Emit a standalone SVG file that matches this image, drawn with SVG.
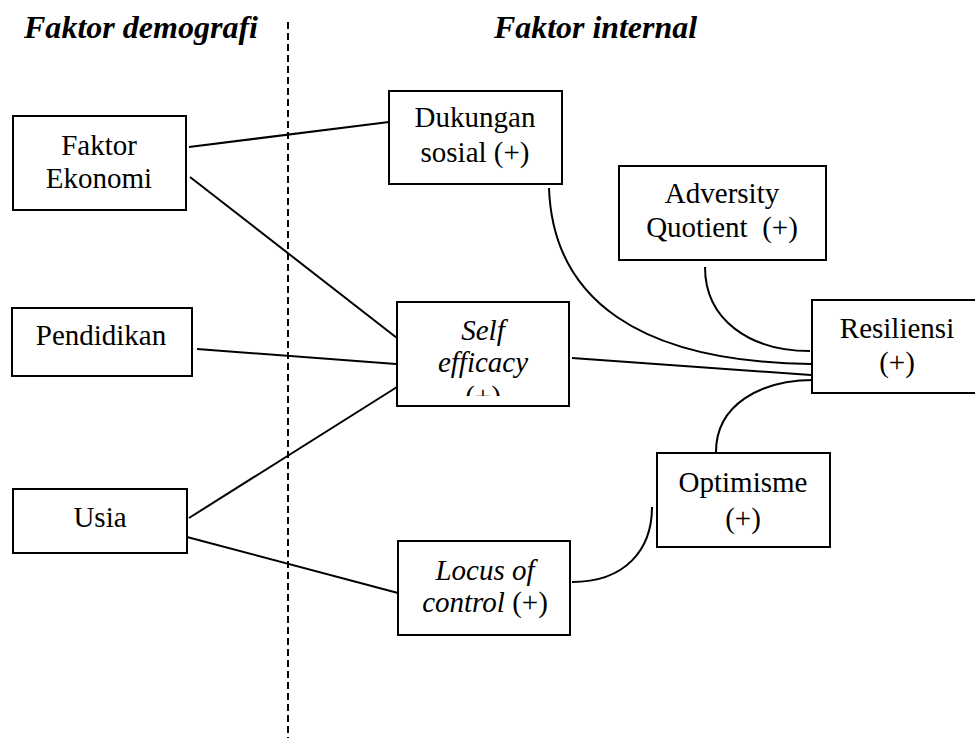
<svg xmlns="http://www.w3.org/2000/svg" width="975" height="738" viewBox="0 0 975 738">
<style>
.box{fill:#fff;stroke:#000;stroke-width:2}
.t{font-size:29px;fill:#000;text-anchor:middle}
.i{font-style:italic}
.h{font-size:32px;font-weight:bold;font-style:italic;fill:#000}
.c{fill:none;stroke:#000;stroke-width:2}
</style>
<defs>
<clipPath id="seClip"><rect x="397" y="302" width="172" height="94"/></clipPath>
</defs>
<rect width="975" height="738" fill="#fff"/>
<g font-family="'Liberation Serif', Tinos, 'Times New Roman', 'DejaVu Serif', serif">
<g id="headers">
<text class="h" x="24" y="38" textLength="234" lengthAdjust="spacingAndGlyphs">Faktor demografi</text>
<text class="h" x="494" y="38" textLength="203" lengthAdjust="spacingAndGlyphs">Faktor internal</text>
<line x1="288" y1="22" x2="288" y2="738" stroke="#000" stroke-width="2" stroke-dasharray="7 4"/>
</g>
<g id="connectors">
<line class="c" x1="189" y1="147" x2="389" y2="122"/>
<line class="c" x1="190" y1="177" x2="397" y2="338"/>
<line class="c" x1="197" y1="349" x2="396" y2="364"/>
<line class="c" x1="189" y1="518" x2="397" y2="387"/>
<line class="c" x1="187" y1="537" x2="398" y2="593"/>
<line class="c" x1="572" y1="358" x2="811" y2="375"/>
<path class="c" d="M549,188 C553,300 640,362 811,364"/>
<path class="c" d="M705,267 C705,320 750,351 810,351"/>
<path class="c" d="M716,452 C716,405 760,380 814,380"/>
<path class="c" d="M572,582 C625,582 652,550 652,507"/>
</g>
<g id="faktor-ekonomi">
<rect class="box" x="13" y="116" width="173" height="94"/>
<text class="t" x="99" y="155">Faktor</text>
<text class="t" x="99" y="188">Ekonomi</text>
</g>
<g id="pendidikan">
<rect class="box" x="12" y="308" width="180" height="68"/>
<text class="t" x="101" y="345">Pendidikan</text>
</g>
<g id="usia">
<rect class="box" x="13" y="489" width="174" height="64"/>
<text class="t" x="100" y="527">Usia</text>
</g>
<g id="dukungan-sosial">
<rect class="box" x="389" y="91" width="173" height="93"/>
<text class="t" x="475" y="127">Dukungan</text>
<text class="t" x="475" y="162">sosial (+)</text>
</g>
<g id="adversity-quotient">
<rect class="box" x="619" y="166" width="207" height="94"/>
<text class="t" x="722" y="203">Adversity</text>
<text class="t" x="722" y="237" xml:space="preserve">Quotient  (+)</text>
</g>
<g id="self-efficacy">
<rect class="box" x="397" y="302" width="172" height="104"/>
<g clip-path="url(#seClip)">
<text class="t i" x="483" y="340">Self</text>
<text class="t i" x="483" y="372">efficacy</text>
<text class="t" x="483" y="406">(+)</text>
</g>
</g>
<g id="resiliensi">
<rect class="box" x="812" y="300" width="175" height="93"/>
<text class="t" x="897" y="338">Resiliensi</text>
<text class="t" x="897" y="372">(+)</text>
</g>
<g id="optimisme">
<rect class="box" x="657" y="453" width="173" height="94"/>
<text class="t" x="743" y="492">Optimisme</text>
<text class="t" x="743" y="528">(+)</text>
</g>
<g id="locus-of-control">
<rect class="box" x="398" y="541" width="172" height="94"/>
<text class="t i" x="485" y="580">Locus of</text>
<text class="t" x="485" y="612"><tspan class="i">control</tspan> (+)</text>
</g>
</g>
</svg>
